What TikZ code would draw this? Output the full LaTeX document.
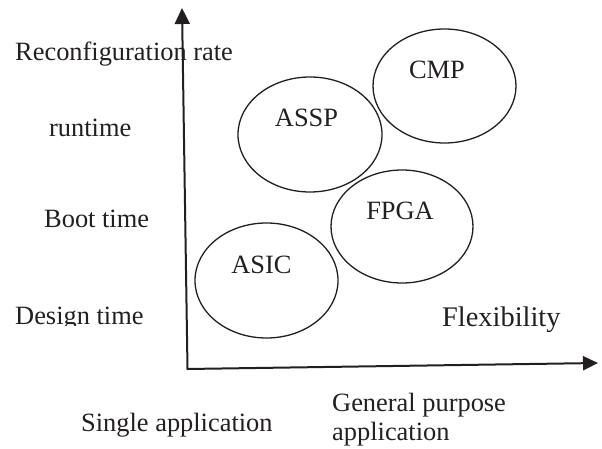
\documentclass[tikz,border=0pt]{standalone}
\usepackage{fontspec}
\setmainfont{Liberation Serif}
\usetikzlibrary{arrows.meta,shapes.geometric}
\definecolor{ink}{RGB}{35,31,32}
\begin{document}
\begin{tikzpicture}[x=1bp,y=-1bp,
  lbl/.style={inner sep=0pt,anchor=base west,text=ink,font=\fontsize{26.5}{30}\selectfont},
  inlbl/.style={inner sep=0pt,anchor=base,text=ink,font=\fontsize{26.5}{30}\selectfont},
  blob/.style={draw=ink,line width=1.3bp,ellipse,inner sep=0pt},
  axis/.style={draw=ink,line width=2bp,line join=miter}]
\useasboundingbox (0,0) rectangle (602,449);
% axes
\coordinate (o) at (187.5,369);
\coordinate (ytip) at (182,8);
\coordinate (xtip) at (598,363);
\draw[axis,{Triangle[length=16bp,width=15bp]}-{Triangle[length=15bp,width=14bp]}] (ytip) -- (o) -- (xtip);
% ellipses
\node[blob,minimum width=143bp,minimum height=114bp] (cmp) at (444.5,86) {};
\node[blob,minimum width=144bp,minimum height=115bp] (assp) at (310,134.5) {};
\node[blob,minimum width=142bp,minimum height=113bp] (fpga) at (402,226.5) {};
\node[blob,minimum width=143bp,minimum height=115bp] (asic) at (266.5,280.5) {};
% ellipse texts
\node[inlbl] (tcmp) at (437,79) {CMP};
\node[inlbl] (tassp) at (306.5,127) {ASSP};
\node[inlbl] (tfpga) at (400,219.5) {FPGA};
\node[inlbl] (tasic) at (261.5,273.5) {ASIC};
% left labels
\node[lbl] (rr) at (15,61) {Reconfiguration rate};
\node[lbl] (rt) at (49,137) {runtime};
\node[lbl] (bt) at (44,228) {Boot time};
\begin{scope}
\clip (0,280) rectangle (170,325.5);
\node[lbl] (dt) at (15,324.5) {Design time};
\end{scope}
\node[lbl,font=\fontsize{28.5}{32}\selectfont] (flex) at (442,326) {Flexibility};
% bottom labels
\node[lbl] (sa) at (81,431) {Single application};
\node[lbl] (gp) at (332,411.5) {General purpose};
\node[lbl] (ga) at (332,440) {application};
\end{tikzpicture}
\end{document}
